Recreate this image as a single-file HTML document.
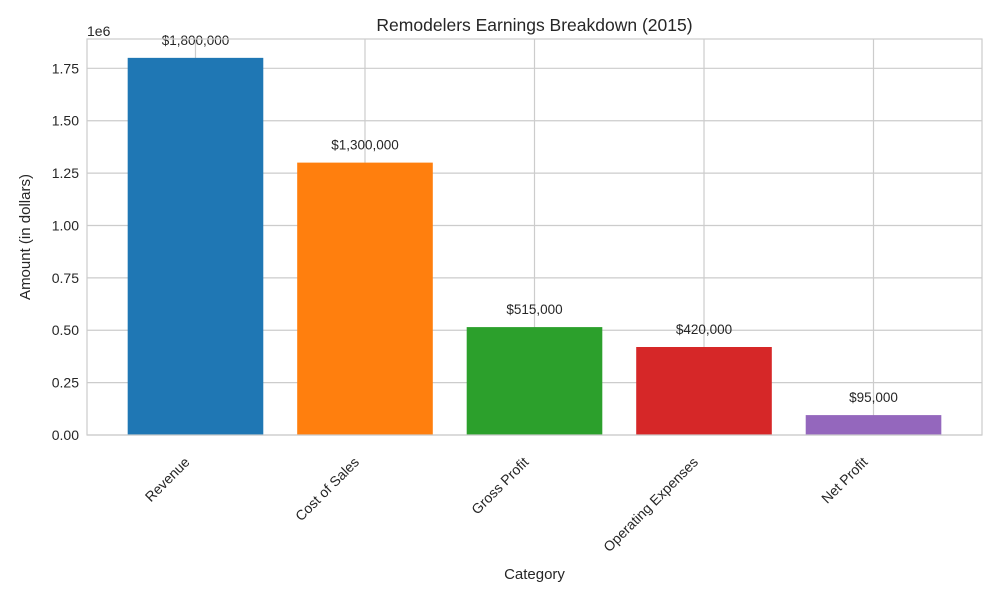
<!DOCTYPE html>
<html><head><meta charset="utf-8"><style>
body{margin:0;background:#fff;font-family:"Liberation Sans","DejaVu Sans",sans-serif;}
svg text{font-family:"Liberation Sans","DejaVu Sans",sans-serif;}
</style></head><body>
<svg id="chart" width="1000" height="600" xmlns="http://www.w3.org/2000/svg"></svg>
<script>
const categories = ["Revenue","Cost of Sales","Gross Profit","Operating Expenses","Net Profit"];
const values = [1800000,1300000,515000,420000,95000];
const valueLabels = ["$1,800,000","$1,300,000","$515,000","$420,000","$95,000"];
const colors = ["#1f77b4","#ff7f0e","#2ca02c","#d62728","#9467bd"];
const yTicks = [0,0.25,0.5,0.75,1.0,1.25,1.5,1.75];
const yTickLabels = ["0.00","0.25","0.50","0.75","1.00","1.25","1.50","1.75"];

const svg = document.getElementById('chart');
const NS = "http://www.w3.org/2000/svg";
const L=87,R=982,T=39,B=435;
const yMax = Math.max(...values)/1e6*1.05;
const xMin=-0.64, xMax=categories.length-1+0.64;
function y(v){return B-(v/yMax)*(B-T);}
function x(i){return L+(i-xMin)/(xMax-xMin)*(R-L);}
const bw = 0.8*(R-L)/(xMax-xMin);
function el(tag,attrs,txt){const e=document.createElementNS(NS,tag);for(const k in attrs)e.setAttribute(k,attrs[k]);if(txt!==undefined)e.textContent=txt;svg.appendChild(e);return e;}

yTicks.forEach((t,i)=>{
  const g=el('line',{x1:L,x2:R,y1:y(t),y2:y(t),stroke:'#cccccc','stroke-width':1.2});
  
  
  const lb=el('text',{x:L-8,y:y(t)+5,'text-anchor':'end','font-size':14,fill:'#262626'},yTickLabels[i]);
  
  
});
categories.forEach((c,i)=>{
  const g=el('line',{x1:x(i),x2:x(i),y1:T,y2:B,stroke:'#cccccc','stroke-width':1.2});
  
  
});
categories.forEach((c,i)=>{
  const v=values[i]/1e6;
  const b=el('rect',{x:x(i)-bw/2,y:y(v),width:bw,height:B-y(v),fill:colors[i]});
  
  
  const t=el('text',{x:x(i),y:y(v)-13,'text-anchor':'middle','font-size':13.5,fill:'#262626'},valueLabels[i]);
  
  
  const lx=x(i)-5, ly=B+28;
  const xl=el('text',{x:lx,y:ly,'text-anchor':'end','font-size':14,fill:'#262626',transform:`rotate(-45 ${lx} ${ly})`},c);
  
  
});
const fr=el('rect',{x:L,y:T,width:R-L,height:B-T,fill:'none',stroke:'#cccccc','stroke-width':1.2});


const ti=el('text',{x:(L+R)/2,y:31,'text-anchor':'middle','font-size':17.5,fill:'#262626'},'Remodelers Earnings Breakdown (2015)');


const off=el('text',{x:87,y:36,'font-size':14,fill:'#262626'},'1e6');


const yt=el('text',{x:30,y:(T+B)/2,'text-anchor':'middle','font-size':15,fill:'#262626',transform:`rotate(-90 30 ${(T+B)/2})`},'Amount (in dollars)');


const xt=el('text',{x:(L+R)/2,y:579,'text-anchor':'middle','font-size':15,fill:'#262626'},'Category');


</script>
</body></html>
